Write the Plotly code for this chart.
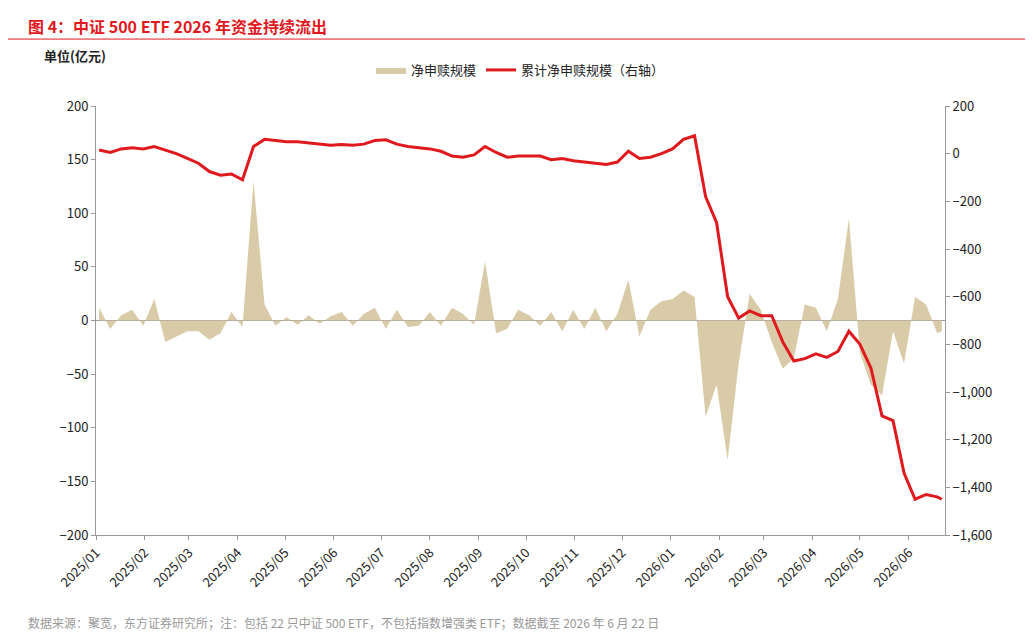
import pandas as pd
import plotly.graph_objects as go

# weekly sampling (Fridays) plus the last data day
dates = list(pd.date_range("2025-01-03", "2026-06-19", freq="W-FRI")) + [pd.Timestamp("2026-06-22")]

# net creation/redemption, 亿元 (left axis)
net_flow = [
    12, -8, 5, 10, -5,
    20, -20, -15, -10,
    -10, -18, -12, 8,
    -6, 130, 15, -5,
    3, -4, 5, -3, 4,
    8, -5, 6, 12,
    -8, 10, -6, -5,
    8, -5, 12, 6, -4,
    55, -12, -8, 10,
    5, -5, 8, -10, 10,
    -8, 12, -10, 6,
    38, -15, 10, 18,
    20, 28, 22, -90, -60,
    -130, -40, 25, 10,
    -20, -45, -35, 15,
    12, -10, 20, 95,
    -30, -60, -70, -10, -40,
    22, 15, -12, -10,
]

# cumulative net creation/redemption, 亿元 (right axis)
cum_flow = [
    15, 5, 20, 25, 20,
    30, 15, 0, -20,
    -40, -75, -90, -85,
    -110, 30, 60, 55,
    50, 50, 45, 40, 35,
    38, 35, 40, 55,
    58, 40, 30, 25,
    20, 10, -10, -15, -5,
    30, 5, -15, -10,
    -10, -10, -25, -20, -30,
    -35, -40, -45, -35,
    10, -20, -15, 0,
    20, 60, 75, -180, -290,
    -600, -690, -660, -680,
    -680, -790, -870, -860,
    -840, -855, -830, -745,
    -800, -900, -1100, -1120, -1340,
    -1450, -1430, -1440, -1450,
]

tick_vals = list(pd.date_range("2025-01-01", "2026-06-01", freq="MS"))
tick_text = [d.strftime("%Y/%m") for d in tick_vals]

font = "Noto Sans CJK SC, Noto Sans, sans-serif"

fig = go.Figure()
fig.add_trace(go.Scatter(
    x=dates, y=net_flow, name="净申赎规模", mode="lines",
    line=dict(width=0, color="#d9cba8"), fill="tozeroy", fillcolor="#d9cba8",
))
fig.add_trace(go.Scatter(
    x=dates, y=cum_flow, name="累计净申赎规模（右轴）", mode="lines",
    line=dict(width=3, color="#e0191e"), yaxis="y2",
))

fig.update_layout(
    width=1033, height=634,
    paper_bgcolor="white", plot_bgcolor="white",
    font=dict(family=font, size=13, color="#222"),
    margin=dict(l=88, r=96, t=98, b=107, autoexpand=False),
    showlegend=True,
    legend=dict(orientation="h", x=0.5, xanchor="center", y=1.084, yanchor="middle",
                font=dict(size=13)),
    xaxis=dict(range=["2025-01-01", "2026-06-24"], tickvals=tick_vals, ticktext=tick_text,
               tickangle=-45, showgrid=False, showline=True, linecolor="#999",
               ticks="outside", ticklen=4, tickcolor="#999"),
    yaxis=dict(range=[-200, 200], dtick=50, showgrid=False, zeroline=True,
               zerolinecolor="#999", zerolinewidth=1, showline=True, linecolor="#999",
               ticks="outside", ticklen=4, tickcolor="#999"),
    yaxis2=dict(range=[-1600, 200], dtick=200, overlaying="y", side="right",
                showgrid=False, zeroline=False, showline=True, linecolor="#999",
                ticks="outside", ticklen=4, tickcolor="#999", tickformat=",d"),
    annotations=[
        dict(text="<b>图 4：中证 500 ETF 2026 年资金持续流出</b>", x=-0.082, y=1.186,
             xref="paper", yref="paper", xanchor="left", yanchor="middle", showarrow=False,
             font=dict(size=16, color="#e0191e")),
        dict(text="<b>单位(亿元)</b>", x=-0.064, y=1.117, xref="paper", yref="paper",
             xanchor="left", yanchor="middle", showarrow=False,
             font=dict(size=13, color="#222")),
        dict(text="数据来源：聚宽，东方证券研究所；注：包括 22 只中证 500 ETF，不包括指数增强类 ETF；数据截至 2026 年 6 月 22 日",
             x=-0.082, y=-0.203, xref="paper", yref="paper", xanchor="left", yanchor="middle",
             showarrow=False, font=dict(size=12, color="#999")),
    ],
    shapes=[dict(type="line", xref="paper", yref="paper", x0=-0.104, x1=1.113,
                 y0=1.156, y1=1.156, line=dict(color="#e0191e", width=1))],
)

fig.write_html("out.html")
